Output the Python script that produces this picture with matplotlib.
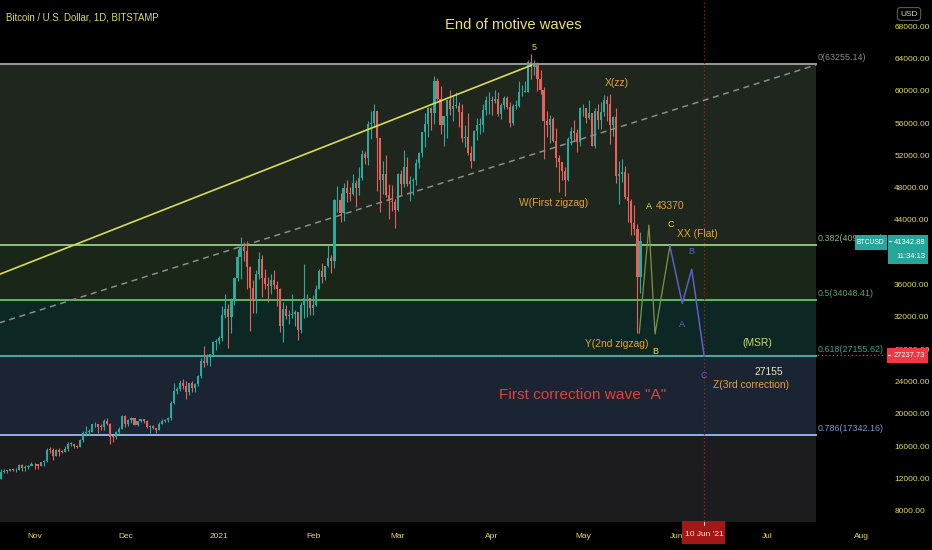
import numpy as np
import matplotlib
matplotlib.use('Agg')
import matplotlib.pyplot as plt
from matplotlib.patches import Rectangle
from matplotlib.transforms import blended_transform_factory

plt.rcParams['font.family'] = ['Liberation Sans', 'DejaVu Sans']

# daily BTCUSD candles, 2020-10-20 .. 2021-05-20
start_date = '2020-10-20'
first_open = 11750
closes = [
    # Oct
    11920, 12820, 12990, 12930, 13120, 13030, 13070, 13650, 13280, 13460, 13560, 13800,
    # Nov
    13760, 13550, 14030, 14150, 15590, 15580, 14840, 15480, 15330, 15310, 15700, 16280, 16320, 16070, 15960,
    16730, 17660, 17800, 17820, 18690, 18700, 18430, 18370, 19160, 18740, 17150, 17140, 17720, 18180, 19700,
    # Dec
    18790, 19220, 19440, 18660, 19150, 19360, 19170, 18330, 18550, 18250, 18040, 18810, 19170, 19270, 19440,
    21350, 22800, 23120, 23860, 23480, 22720, 23820, 23240, 23730, 24710, 26490, 26270, 27050, 27360, 28890, 28980,
    # Jan
    29390, 32190, 33000, 31990, 33980, 36820, 39440, 40630, 40150, 38190, 35530, 33990, 37360, 39190, 36800,
    36020, 35830, 36630, 35950, 35480, 30830, 33010, 32090, 32280, 32370, 32550, 30440, 33470, 34290, 34320, 33110,
    # Feb
    33530, 35510, 37670, 36960, 38300, 39270, 38880, 46430, 46530, 44850, 48010, 47400, 47190, 48630,
    47960, 49170, 52150, 51680, 55880, 55960, 57490, 54140, 48900, 49700, 47100, 46300, 46200, 45240,
    # Mar
    49630, 48400, 50500, 48400, 48800, 48900, 51000, 52300, 54900, 55900, 57800, 57200, 61200, 59000, 55700,
    56900, 58900, 57700, 58100, 58100, 57400, 54100, 54300, 52300, 51300, 55000, 55800, 55800, 57600, 58800, 58800,
    # Apr
    58700, 59000, 57100, 58200, 59100, 58000, 56000, 58100, 58100, 59800, 59900, 59900, 63600, 62900, 63200,
    61400, 60100, 56200, 55700, 56500, 53800, 51700, 51200, 50100, 49000, 54000, 55000, 54800, 53600, 57800,
    # May
    57800, 56600, 57200, 53200, 57500, 56400, 57400, 58900, 58300, 55800, 56700, 49400, 49700, 49900, 46800,
    46400, 43600, 42900, 37000, 41342,
]
highs = [
    12020, 13220, 13190, 13030, 13170, 13350, 13250, 13800, 13850, 13640, 13680, 14100,
    13890, 13830, 14070, 14250, 15740, 15960, 15770, 15650, 15840, 15480, 15970, 16480, 16480, 16330, 16150,
    16880, 17860, 18480, 18130, 18800, 18950, 18730, 18770, 19400, 19480, 18900, 17440, 17880, 18350, 19850,
    19920, 19340, 19580, 19520, 19180, 19420, 19420, 19300, 18640, 18570, 18290, 18940, 19400, 19350, 19560,
    21550, 23770, 23280, 24170, 24300, 24100, 23840, 24100, 23800, 24790, 26870, 28380, 27400, 27400, 28990, 29300,
    29600, 33300, 34800, 33600, 34400, 36950, 40400, 41950, 41300, 41400, 38300, 36600, 37800, 40000, 39700,
    37900, 36900, 37300, 37850, 36400, 35600, 33800, 33500, 32900, 34800, 32900, 32600, 33800, 38500, 34900, 34300,
    34700, 35900, 37900, 38700, 38300, 40900, 39700, 46600, 48200, 47300, 48600, 48900, 48100, 49700,
    49000, 50500, 52600, 52500, 56300, 57500, 58350, 57500, 54200, 51300, 52000, 48400, 48300, 46600,
    49800, 50200, 52600, 51800, 49500, 49200, 51500, 52400, 54900, 57300, 58000, 58000, 61800, 61600, 60600,
    56900, 58900, 60100, 59400, 59900, 58600, 58400, 55800, 57200, 53200, 55100, 56600, 56600, 58400, 59300, 59800,
    59400, 60100, 59800, 58500, 59300, 59400, 58600, 58300, 58900, 61200, 60700, 61200, 63800, 64600, 63800,
    63600, 62500, 60500, 57500, 57000, 56800, 55400, 52100, 51200, 50500, 54300, 55500, 56400, 55200, 58000,
    58400, 57900, 58900, 57200, 57900, 58300, 58600, 59500, 59300, 59600, 56900, 57900, 51300, 51500, 50700,
    49800, 46600, 45800, 43500, 42500,
]
lows = [
    11430, 11900, 12720, 12720, 12900, 12880, 12790, 13060, 12900, 12990, 13130, 13640,
    13220, 13240, 13550, 13530, 14100, 15200, 14350, 14740, 14800, 15100, 15270, 15460, 15980, 15770, 15800,
    15880, 16560, 17220, 17340, 17740, 18320, 17620, 18000, 18050, 18580, 16330, 16520, 16870, 17530, 18180,
    18330, 18500, 18920, 18590, 18560, 19000, 18920, 18200, 17650, 18130, 17600, 18020, 18710, 19000, 19050,
    19280, 21230, 22420, 22800, 23070, 21900, 22350, 22700, 22720, 23440, 24500, 25860, 26100, 25900, 27330, 27900,
    28700, 29000, 31900, 28100, 30000, 33500, 36500, 36700, 38900, 35400, 30300, 32500, 32500, 36700, 34500,
    35400, 33900, 34900, 35400, 33400, 30100, 28900, 31700, 31100, 31900, 30900, 29200, 30000, 31900, 32000, 32300,
    32300, 33400, 35400, 36200, 36600, 38200, 37400, 38000, 45000, 43800, 43900, 46200, 46400, 47100,
    45600, 47100, 48900, 50900, 50800, 54000, 55500, 47600, 45000, 47200, 46900, 44100, 45100, 43000,
    45100, 47100, 48100, 48200, 46300, 47100, 48300, 50400, 51800, 53000, 54300, 55100, 55900, 58900, 54600,
    53200, 54200, 57000, 56300, 57800, 55500, 53700, 53000, 52000, 50400, 51300, 53900, 54700, 54900, 57000, 57100,
    57000, 58500, 56900, 56500, 57700, 57700, 55500, 55800, 57700, 58000, 59300, 59800, 59900, 61500, 62000,
    60000, 59600, 51500, 54300, 53500, 53600, 50600, 47500, 48900, 47000, 48800, 53300, 53800, 52400, 53100,
    56900, 56000, 56500, 53100, 52900, 55300, 55300, 56900, 56200, 53400, 54400, 48600, 46000, 48700, 46600,
    43800, 42200, 42200, 30000, 35000,
]

# fib retracement (0 -> 1)
fib_ratios = [0, 0.382, 0.5, 0.618, 0.786, 1.0]
fib_top = 63255.14
fib_bottom = 4841.68
fib_end = '2021-07-17'

# drawn lines
trend_dates = ['2020-10-20', '2021-04-14']
trend_prices = [37210, 63150]
channel_dates = ['2020-10-20', '2021-07-17']
channel_prices = [31220, 63200]
proj1_days = [199.6, 202.8, 204.8, 209.7]     # days since 1 Nov 2020
proj1_prices = [30000, 43370, 29890, 40780]
proj2_days = [209.7, 213.8, 216.9, 221.0]
proj2_prices = [40780, 33690, 37900, 27155]

last_price = 41342.88
last_time = '11:34:13'
line_price = 27237.73
marker_date = '2021-06-10'

month_starts = ['2020-11-01', '2020-12-01', '2021-01-01', '2021-02-01', '2021-03-01',
                '2021-04-01', '2021-05-01', '2021-06-01', '2021-07-01', '2021-08-01']
month_labels = ['Nov', 'Dec', '2021', 'Feb', 'Mar', 'Apr', 'May', 'Jun', 'Jul', 'Aug']
price_ticks = list(range(8000, 68001, 4000))

base = np.datetime64('2020-11-01')


def day(s):
    return float((np.datetime64(s) - base).astype(int))


W, H = 932, 550
YEL = '#e2dc58'
ORG = '#e2a232'
BLU = '#6064d0'

fig = plt.figure(figsize=(9.32, 5.5), dpi=100, facecolor='black')
ax = fig.add_axes([0, 29 / H, 885 / W, 521 / H])
ax.set_facecolor('black')
ax.set_xlim(-11.39, 280.7)
ax.set_ylim(6745, 71225)
per_px = (71225 - 6745) / 521   # price units per pixel

# fib zones
zone_cols = ['#1e261e', '#1a2618', '#0d2824', '#1a2433', '#1c1c1f']
line_cols = ['#9a9a9a', '#8cc47c', '#5cb860', '#40aea4', '#8fb3e3']
label_cols = ['#8a8a8a', '#86b876', '#56a858', '#3aa096', '#6f9fd8']
fib_vals = [fib_top - r * (fib_top - fib_bottom) for r in fib_ratios]
x0, x1 = -12, day(fib_end)
for i in range(5):
    ax.fill_between([x0, x1], fib_vals[i + 1], fib_vals[i], color=zone_cols[i], lw=0, zorder=0)
ax.axhline(line_price, color='#f23645', ls=(0, (1, 2)), lw=0.9, zorder=0.5)
for i in range(5):
    ax.plot([x0, x1], [fib_vals[i]] * 2, color=line_cols[i], lw=1.4, zorder=1)
    ax.text(x1 + 0.4, fib_vals[i] + 250, f'{fib_ratios[i]:g}({fib_vals[i]:.2f})',
            color=label_cols[i], fontsize=6.4, ha='left', va='bottom', zorder=3)

# vertical date marker
ax.axvline(day(marker_date), color='#a3202a', ls=(0, (1, 2)), lw=0.9, zorder=1)

# candles
o = np.array([first_open] + closes[:-1], dtype=float)
c = np.array(closes, dtype=float)
h = np.array(highs, dtype=float)
l = np.array(lows, dtype=float)
xs = np.arange(len(c)) + day(start_date)
up = c >= o
cols = np.where(up, '#2eaa9c', '#e8605a')
ax.vlines(xs, l, h, colors=cols, lw=0.8, zorder=2)
body = np.maximum(np.abs(c - o), 80)
ax.bar(xs, body, bottom=np.minimum(o, c), width=0.7, color=cols, lw=0, zorder=2)

# trend lines
ax.plot([day(d) for d in trend_dates], trend_prices, color='#d8dc55', lw=1.2, zorder=2)
ax.plot([day(d) for d in channel_dates], channel_prices, color='#8a8d8a', lw=1.1,
        ls=(0, (4, 3)), zorder=2)
ax.plot(proj1_days, proj1_prices, color='#7f9146', lw=0.9, zorder=2)
ax.plot(proj2_days, proj2_prices, color='#5c5fcc', lw=1.1, zorder=2)

# wave labels
ax.text(158, 68131, 'End of motive waves', color='#ece173', fontsize=10.6, ha='center', va='center')
ax.text(164.9, 65371, '5', color=YEL, fontsize=6.5, ha='center', va='center')
ax.text(192.1, 60990, 'X(zz)', color=ORG, fontsize=7.4, ha='center', va='center')
ax.text(171.2, 46139, 'W(First zigzag)', color=ORG, fontsize=7.4, ha='center', va='center')
ax.text(202.7, 45644, 'A', color=YEL, fontsize=6.5, ha='center', va='center')
ax.text(205.1, 45730, '43370', color=ORG, fontsize=7.4, ha='left', va='center')
ax.text(210.0, 43379, 'C', color=YEL, fontsize=6.5, ha='center', va='center')
ax.text(212.1, 42265, 'XX (Flat)', color=ORG, fontsize=7.4, ha='left', va='center')
ax.text(216.7, 40074, 'B', color=BLU, fontsize=6.5, ha='center', va='center')
ax.text(213.8, 31126, 'A', color=BLU, fontsize=6.5, ha='center', va='center')
ax.text(202.6, 28651, 'Y(2nd zigzag)', color=ORG, fontsize=7.4, ha='right', va='center')
ax.text(204.8, 27698, 'B', color=YEL, fontsize=6.5, ha='center', va='center')
ax.text(238.4, 28738, '(MSR)', color='#cbd86a', fontsize=7.4, ha='center', va='center')
ax.text(242.5, 25223, '27155', color='#ede6b4', fontsize=7.4, ha='center', va='center')
ax.text(236.4, 23577, 'Z(3rd correction)', color=ORG, fontsize=7.4, ha='center', va='center')
ax.text(221.0, 24814, 'C', color=BLU, fontsize=6.5, ha='center', va='center')
ax.text(181, 22339, 'First correction wave "A"', color='#e2403a', fontsize=11.1, ha='center', va='center')

# axes
for s in ax.spines.values():
    s.set_visible(False)
ax.yaxis.tick_right()
ax.set_yticks(price_ticks)
ax.set_yticklabels([f'{p:.2f}' for p in price_ticks])
ax.set_xticks([day(m) for m in month_starts])
ax.set_xticklabels(month_labels)
ax.tick_params(axis='y', length=0, pad=6.6, labelsize=6, labelcolor=YEL)
ax.tick_params(axis='x', length=0, pad=8.5, labelsize=6, labelcolor=YEL)

# price tags on the price scale
tag_tr = blended_transform_factory(fig.transFigure, ax.transData)


def price_tag(left, right, top, height, color, lines, align='right', size=5.4):
    ax.add_artist(Rectangle((left / W, top - height * per_px), (right - left) / W, height * per_px,
                            transform=tag_tr, fc=color, ec='none', clip_on=False, zorder=5))
    step = height / len(lines)
    for k, txt in enumerate(lines):
        tx = (right - 2.5) / W if align == 'right' else (left + right) / 2 / W
        ax.text(tx, top - (k + 0.5) * step * per_px, txt, transform=tag_tr, color='white',
                fontsize=size, ha=align, va='center', clip_on=False, zorder=6)


tag_top = last_price + 6.5 * per_px
price_tag(855, 886.5, tag_top, 15, '#26a69a', ['BTCUSD'], align='center', size=4.9)
price_tag(887.5, 927.5, tag_top, 29, '#26a69a', [f'{last_price:.2f}', last_time])
ax.plot([888.5 / W, 890.5 / W], [last_price, last_price], transform=tag_tr, color='white', lw=0.8,
        clip_on=False, zorder=6)
price_tag(886.5, 927.5, line_price + 7.5 * per_px, 15.5, '#f23645', [f'{line_price:.2f}'])
ax.plot([887.5 / W, 889.5 / W], [line_price, line_price], transform=tag_tr, color='white', lw=0.8,
        clip_on=False, zorder=6)

# date tag on the time scale
xtr = ax.get_xaxis_transform()
md = day(marker_date)
ax.add_artist(Rectangle((md - 7.15, -23 / 521), 14.2, 23 / 521, transform=xtr, fc='#a51616',
                        ec='none', clip_on=False, zorder=5))
ax.text(md, -13 / 521, "10 Jun '21", transform=xtr, color='#f3ead0', fontsize=6,
        ha='center', va='center', clip_on=False, zorder=6)
ax.plot([md, md], [-0.001, -0.008], transform=xtr, color='#f3ead0', lw=0.7,
        clip_on=False, zorder=6)

fig.text(6 / W, 1 - 18 / H, 'Bitcoin / U.S. Dollar, 1D, BITSTAMP', color='#e0dc62',
         fontsize=6.9, ha='left', va='center')
fig.text(909 / W, 1 - 14 / H, 'USD', color=YEL, fontsize=6, ha='center', va='center',
         bbox=dict(boxstyle='round,pad=0.35', fc='black', ec='#5a5a5a', lw=0.8))

fig.savefig('out.png', dpi=100, facecolor='black')
